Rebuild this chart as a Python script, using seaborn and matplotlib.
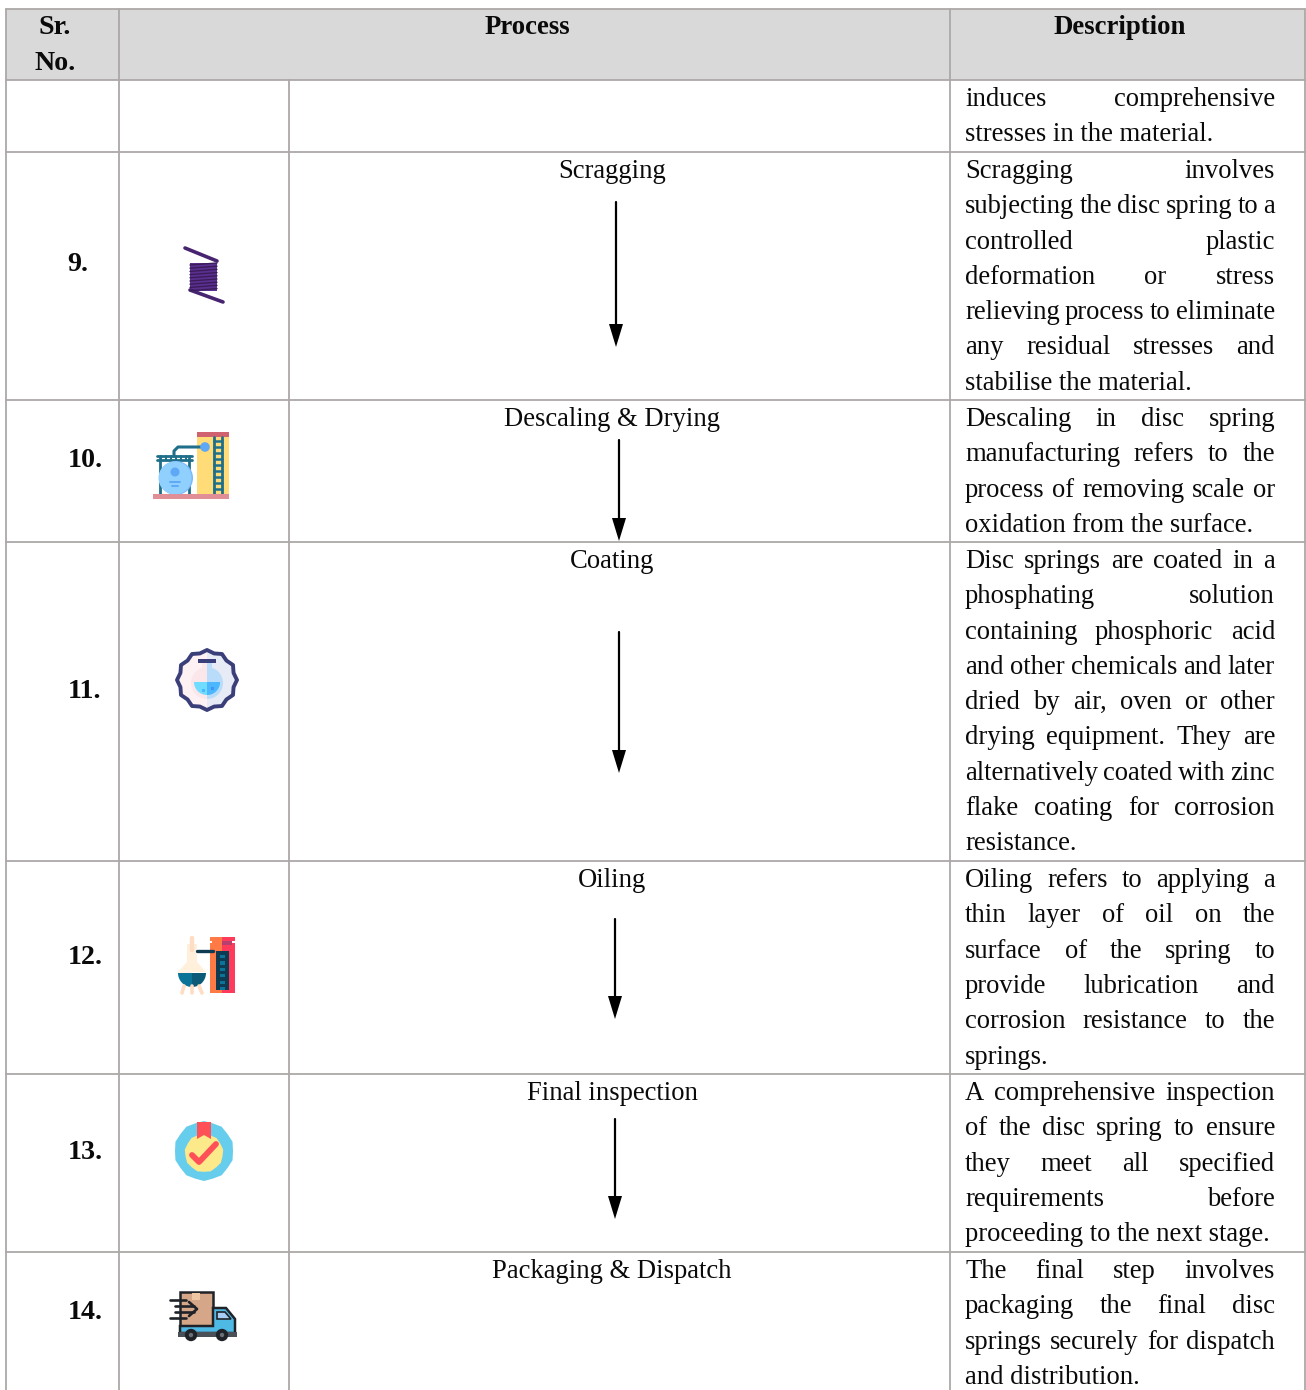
# Process table (rows 9 to 14) redrawn on one big axes in pixel coordinates
import numpy as np
import matplotlib
matplotlib.use('Agg')
import matplotlib.pyplot as plt
import matplotlib.patches as mp
import seaborn as sns

headers = ['Sr.\nNo.', 'Process', 'Description']
sr_numbers = ['', '9.', '10.', '11.', '12.', '13.', '14.']
process_names = ['', 'Scragging', 'Descaling & Drying', 'Coating', 'Oiling',
                 'Final inspection', 'Packaging & Dispatch']
descriptions = [
    ['induces comprehensive', 'stresses in the material.'],
    ['Scragging involves', 'subjecting the disc spring to a', 'controlled plastic',
     'deformation or stress', 'relieving process to eliminate',
     'any residual stresses and', 'stabilise the material.'],
    ['Descaling in disc spring', 'manufacturing refers to the',
     'process of removing scale or', 'oxidation from the surface.'],
    ['Disc springs are coated in a', 'phosphating solution',
     'containing phosphoric acid', 'and other chemicals and later',
     'dried by air, oven or other', 'drying equipment. They are',
     'alternatively coated with zinc', 'flake coating for corrosion',
     'resistance.'],
    ['Oiling refers to applying a', 'thin layer of oil on the',
     'surface of the spring to', 'provide lubrication and',
     'corrosion resistance to the', 'springs.'],
    ['A comprehensive inspection', 'of the disc spring to ensure',
     'they meet all specified', 'requirements before',
     'proceeding to the next stage.'],
    ['The final step involves', 'packaging the final disc',
     'springs securely for dispatch', 'and distribution.'],
]

# layout, in pixels of the 1306x1390 picture
row_edges = [80, 152, 400, 542, 861, 1074, 1252, 1390]
col_edges = [6, 119, 289, 950, 1305]
sr_y = [None, 262, 458, 689, 955, 1150, 1310]
arrow_x = [None, 616, 619, 619, 615, 615, None]
arrow_from = [None, 201, 439, 631, 918, 1118, None]
arrow_to = [None, 346, 540, 772, 1018, 1218, None]

LINE = '#aca8a8'
FS = 19.15
FS_HEAD = 19.3
FS_NUM = 20.2
LEAD = 35.3
TXT = '#0a0a0a'

sns.set_theme(style='white')
plt.rcParams['font.family'] = ['Liberation Serif', 'DejaVu Serif']

fig, ax = plt.subplots(figsize=(13.06, 13.9), dpi=100)
ax.set_position([0, 0, 1, 1])
ax.set_xlim(0, 1306)
ax.set_ylim(1390, 0)
ax.axis('off')
sns.despine(ax=ax, left=True, bottom=True)

# header band and grid
ax.add_patch(mp.Rectangle((6, 9), 1299, 71, fc='#d9d9d9', ec='none', zorder=0))
ax.plot([6, 1305], [9, 9], color=LINE, lw=1.3)
for y in row_edges[:-1]:
    ax.plot([6, 1305], [y, y], color=LINE, lw=1.3)
for i, x in enumerate(col_edges):
    ax.plot([x, x], [80 if x == 289 else 9, 1390], color=LINE, lw=1.3)

# header text
ax.text(55, 34, 'Sr.', fontsize=FS_NUM, weight='bold', ha='center', color=TXT)
ax.text(55, 69.5, 'No.', fontsize=FS_NUM, weight='bold', ha='center', color=TXT)
ax.text(527, 33.5, headers[1], fontsize=FS_HEAD, weight='bold', ha='center', color=TXT)
ax.text(1120, 33.5, headers[2], fontsize=FS_HEAD, weight='bold', ha='center', color=TXT)

fig.canvas.draw()
rend = fig.canvas.get_renderer()


def width_of(word):
    t = ax.text(0, 0, word, fontsize=FS)
    w = t.get_window_extent(rend).width
    t.remove()
    return w


def justified(line, x0, x1, y, stretch):
    words = line.split(' ')
    if not stretch or len(words) == 1:
        ax.text(x0, y, line, fontsize=FS, color=TXT, va='baseline')
        return
    ws = [width_of(w) for w in words]
    gap = (x1 - x0 - sum(ws)) / (len(words) - 1)
    x = x0
    for w, wd in zip(words, ws):
        ax.text(x, y, w, fontsize=FS, color=TXT, va='baseline')
        x += wd + gap


for r, lines in enumerate(descriptions):
    top = row_edges[r]
    for i, line in enumerate(lines):
        stretch = i < len(lines) - 1
        justified(line, 965, 1275, top + 26 + i * LEAD, stretch)
    if process_names[r]:
        ax.text(612, top + 26, process_names[r], fontsize=FS, ha='center', color=TXT)
        ax.text(67.5, sr_y[r] + 9, sr_numbers[r], fontsize=FS_NUM, weight='bold', color=TXT)
    if arrow_x[r]:
        ax.plot([arrow_x[r]] * 2, [arrow_from[r] + 1, arrow_to[r] - 15], color='black', lw=1.6)
        ax.add_patch(mp.Polygon([[arrow_x[r] - 7, arrow_to[r] - 22],
                                 [arrow_x[r] + 7, arrow_to[r] - 22],
                                 [arrow_x[r], arrow_to[r] + 1]], fc='black', ec='none'))


# small icons, drawn from simple shapes
def rect(x0, y0, x1, y1, c, z=3):
    p = mp.Rectangle((x0, y0), x1 - x0, y1 - y0, fc=c, ec='none', zorder=z)
    ax.add_patch(p)
    return p


def circ(x, y, r, c, z=3):
    p = mp.Circle((x, y), r, fc=c, ec='none', zorder=z)
    ax.add_patch(p)
    return p


def seg(xs, ys, c, lw=1.5, z=4):
    ax.plot(xs, ys, color=c, lw=lw, zorder=z, solid_capstyle='round')


def star(cx, cy, r_out, r_in, n, c, ec='none', lw=0, z=3, rot=0):
    ang = np.arange(2 * n) * np.pi / n + rot
    rad = np.where(np.arange(2 * n) % 2 == 0, r_out, r_in)
    pts = np.c_[cx + rad * np.sin(ang), cy - rad * np.cos(ang)]
    p = mp.Polygon(pts, fc=c, ec=ec, lw=lw, zorder=z, joinstyle='round')
    ax.add_patch(p)
    return p


# spring
seg([185, 217], [248, 261], '#47246f', 2.6)
seg([190, 223], [290, 302], '#47246f', 2.6)
rect(190, 263, 217, 291, '#5b2f8f')
for yy in np.arange(264, 291, 3.2):
    seg([190, 217], [yy + 1, yy - 1], '#3a1c5a', 1.0)

# descaling plant
rect(197, 432, 229, 495, '#ffdc78')
rect(197, 432, 229, 437, '#d0616f')
rect(153, 494, 229, 499, '#e08f96', 5)
for xx in (214, 222):
    seg([xx, xx], [437, 494], '#1f6f8b', 2.0)
for yy in np.arange(441, 494, 6):
    seg([214, 222], [yy, yy], '#1f6f8b', 1.8)
seg([174, 174, 178, 205], [456, 451, 447, 447], '#1f6f8b', 2.2)
circ(205, 447, 4.8, '#5fa8f5', 5)
for yy in (455.5, 460):
    seg([157, 192], [yy, yy], '#1f6f8b', 2.0)
for xx in np.arange(161, 190, 5):
    seg([xx, xx], [456, 460], '#1f6f8b', 1.4)
for xx in (160, 189):
    seg([xx, xx], [456, 494], '#1f6f8b', 2.0)
circ(176, 478, 17, '#7ab8fb', 4)
circ(175, 478, 16.5, '#90d0ff', 4)
circ(175, 472, 4.5, '#5fa8f5', 5)
seg([170, 180], [482, 482], '#5fa8f5', 1.4, 5)
seg([172, 178], [486, 486], '#5fa8f5', 1.4, 5)

# coating flask badge
outline = star(207, 680, 30, 27.5, 12, '#fdf1f4', ec='none')
shade = rect(207, 648, 240, 712, '#e6ebf5', 3)
shade.set_clip_path(outline)
star(207, 680, 30, 27.5, 12, 'none', ec='#3a3f7a', lw=2.8, z=4)
rect(198, 659, 216, 662.5, '#3a3f7a', 5)
circ(207, 683, 16, '#fbe6ea', 4)
right_half = circ(207, 683, 16, '#b9dcfb', 4)
right_half.set_clip_path(rect(207, 660, 225, 700, 'none', 0))
rect(202, 662, 207, 672, '#fbe6ea', 4)
rect(207, 662, 212, 672, '#b9dcfb', 4)
ax.add_patch(mp.Wedge((207, 682), 13, 0, 180, fc='#70dcff', ec='none', zorder=5))
ax.add_patch(mp.Wedge((207, 682), 13, 0, 90, fc='#4cb6ff', ec='none', zorder=6))
rect(202, 689, 205, 692, '#4cb6ff', 7)
rect(211, 687, 214, 690, '#3f96f0', 7)

# oiling still
seg([192, 192], [938, 950], '#ffdcc4', 3.2)
ax.add_patch(mp.Polygon([[187, 944], [197, 944], [197, 962], [206, 972], [178, 972], [187, 962]],
                        fc='#fff0dc', ec='none', zorder=3))
rect(178, 970, 192, 974, '#fff3e6', 3)
ax.add_patch(mp.Wedge((192, 973), 14, 0, 90, fc='#0b5a78', ec='none', zorder=4))
ax.add_patch(mp.Wedge((192, 973), 14, 90, 180, fc='#0a7398', ec='none', zorder=4))
for xs in ([184, 182], [192, 192], [199, 202]):
    seg(xs, [986, 993], '#ffdcc4', 2.6)
rect(210, 943, 222, 993, '#ff7a45')
rect(222, 943, 235, 993, '#ff3b5c')
rect(210, 937, 222, 941, '#ff7a45')
rect(222, 937, 235, 941, '#ff3b5c')
rect(212, 941, 222, 945, '#ff7a45')
rect(222, 941, 232, 945, '#b53f6d')
rect(216, 951, 229, 990, '#0e3a52', 4)
for yy in np.arange(955, 988, 6.4):
    rect(220, yy, 225, yy + 3.2, '#0d7499', 5)
seg([197, 213], [951, 951], '#0e3a52', 2.4, 5)

# inspection badge
star(204, 1151, 30, 29, 10, '#67cdec')
star(204, 1153, 19.5, 18.8, 9, '#fbe98a', z=4)
ax.add_patch(mp.Polygon([[197, 1122], [211, 1122], [211, 1139], [204, 1135], [197, 1139]],
                        fc='#ff5058', ec='none', zorder=5))
ax.plot([192, 199, 216], [1155, 1162, 1144], color='#ff5058', lw=4.2, zorder=6,
        solid_capstyle='round', solid_joinstyle='round')

# delivery truck
dark = '#1f2328'
ax.add_patch(mp.Rectangle((180, 1292), 33, 34, fc='#d5a687', ec=dark, lw=1.8, zorder=3))
rect(192, 1293, 200, 1300, '#eec6a2', 4)
ax.add_patch(mp.Polygon([[213, 1308], [226, 1308], [235, 1319], [235, 1333], [180, 1333],
                         [180, 1326], [213, 1326]], fc='#4fb9e6', ec=dark, lw=1.8, zorder=3))
ax.add_patch(mp.Polygon([[217, 1312], [225, 1312], [231, 1319], [217, 1319]],
                        fc='#a5cdf5', ec=dark, lw=1.2, zorder=4))
rect(178, 1332, 237, 1337, '#4a5058', 4)
for xx in (191, 222):
    circ(xx, 1335, 6.2, dark, 5)
    circ(xx, 1335, 2.2, '#6a7078', 6)
seg([170, 186], [1300, 1300], dark, 1.9, 5)
seg([175, 194], [1306, 1306], dark, 1.9, 5)
seg([175, 194], [1312, 1312], dark, 1.9, 5)
seg([170, 186], [1318, 1318], dark, 1.9, 5)
seg([189, 197, 189], [1302, 1309, 1316], dark, 1.9, 5)

fig.savefig('out.png', dpi=100)
